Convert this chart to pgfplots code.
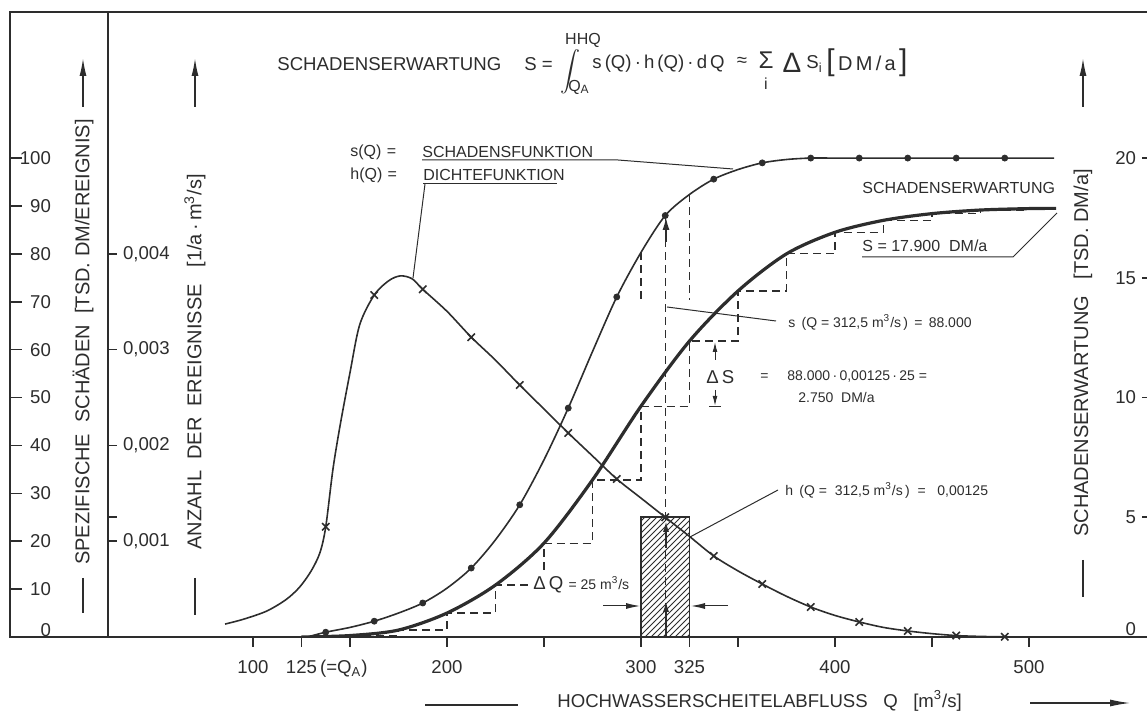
\documentclass[border=0pt]{standalone}
\usepackage{fontspec}
\setmainfont{Liberation Sans}
\usepackage{graphicx}
\usepackage{pgfplots}
\usepackage{pgfplotstable}
\pgfplotsset{compat=1.18}
\usetikzlibrary{patterns,arrows.meta}
\definecolor{ink}{RGB}{45,45,45}
\newcommand{\fA}{\fontsize{9.3pt}{11pt}\selectfont}
\newcommand{\fB}{\fontsize{8pt}{10pt}\selectfont}
\newcommand{\fC}{\fontsize{7pt}{9pt}\selectfont}
\newcommand{\fV}{\fontsize{10pt}{12pt}\selectfont}

% s(Q) Schadensfunktion [TSD DM/Ereignis]
\pgfplotstableread{
Q s
128 0
137.5 1.0
150 2.0
162.5 3.3
175 5.0
187.5 7.1
200 10.2
212.5 14.4
225 20.3
237.5 27.6
250 37.0
262.5 47.8
275 59.6
287.5 71.0
300 80.3
312.5 88.0
325 92.4
337.5 95.6
350 97.6
362.5 99.0
375 99.7
387.5 100
400 100
450 100
513 100
}\scurve
\pgfplotstableread{
Q s
137.5 1.0
162.5 3.3
187.5 7.1
212.5 14.4
237.5 27.6
262.5 47.8
287.5 71.0
312.5 88.0
337.5 95.6
362.5 99.0
387.5 100
412.5 100
437.5 100
462.5 100
487.5 100
}\smarks
% h(Q) Dichtefunktion [1/(a m3/s)]
\pgfplotstableread{
Q h
85.6 0.000135
95 0.000185
107 0.000270
117 0.000390
124 0.000520
130 0.000690
134.5 0.000880
137.5 0.00115
141.2 0.00175
145 0.00222
150 0.00276
155 0.00326
162.5 0.00357
170 0.00372
176 0.00377
182 0.00374
187.5 0.00363
200 0.00340
212.5 0.00313
225 0.00289
237.5 0.00263
250 0.00238
262.5 0.00213
275 0.00189
287.5 0.00165
300 0.00145
312.5 0.00125
325 0.00105
337.5 0.000846
350 0.000690
362.5 0.000553
375 0.000425
387.5 0.000313
400 0.000225
412.5 0.000157
425 0.000100
437.5 0.000063
450 0.000035
462.5 0.000015
475 0.000006
487.5 0.000002
500 0
}\hcurve
\pgfplotstableread{
Q h
137.5 0.00115
162.5 0.00357
187.5 0.00363
212.5 0.00313
237.5 0.00263
262.5 0.00213
287.5 0.00165
312.5 0.00125
337.5 0.000846
362.5 0.000553
387.5 0.000313
412.5 0.000157
437.5 0.000063
462.5 0.000015
487.5 0.000002
}\hmarks
% S(Q) Schadenserwartung [TSD DM/a]
\pgfplotstableread{
Q S
125 0
150 0.06
175 0.29
200 1.00
225 2.17
250 3.92
275 6.56
300 9.64
325 12.36
350 14.45
375 16.00
400 16.90
425 17.40
450 17.68
475 17.83
500 17.89
514 17.90
}\Scurve
\pgfplotstableread{
Q S
150 0.06
175 0.29
200 1.00
225 2.17
250 3.92
275 6.56
300 9.64
325 12.36
350 14.45
375 16.00
400 16.90
425 17.40
450 17.68
475 17.83
500 17.89
}\Ssteps

\pgfplotsset{
  geom/.style={at={(54pt,40.5pt)}, anchor=south west, scale only axis,
    width=520.5pt, height=312.5pt, xmin=25.26, xmax=561.86},
  stair/.style={ink, line width=0.6pt, dash pattern=on 4pt off 2.5pt},
}

\begin{document}
\begin{tikzpicture}
\useasboundingbox (0,0) rectangle (573.5pt,359pt);

% left panel: spezifische Schaeden
\begin{axis}[at={(5pt,40.5pt)}, anchor=south west, scale only axis,
  width=49pt, height=312.5pt, xmin=0, xmax=1, ymin=0, ymax=130.5,
  xtick=\empty, ytick={10,20,...,100},
  extra y ticks={0}, extra y tick style={yticklabel style={yshift=3.5pt}},
  ytick pos=left, tick align=inside, major tick length=6pt,
  tick style={ink, line width=0.8pt},
  axis line style={ink, line width=1.4pt},
  yticklabel style={font=\fA, text=ink, anchor=east, xshift=24pt},
  /pgf/number format/assume math mode=true]
\end{axis}

% main axis: s(Q)
\begin{axis}[geom, ymin=0, ymax=130.5, ytick=\empty,
  xtick={100,125,150,200,250,300,325,350,400,450,500},
  xticklabels={100,{125\rlap{\,(=Q\textsubscript{A})}},,200,,300,325,,400,,500},
  xtick pos=bottom, tick align=outside, major tick length=5pt,
  tick style={ink, line width=0.9pt},
  axis line style={ink, line width=1.4pt},
  xticklabel style={font=\fA, text=ink, yshift=-3pt}]
  \addplot[ink, line width=0.8pt, smooth, no markers] table[x=Q,y=s] {\scurve};
  \addplot[ink, only marks, mark=*, mark size=1.5pt] table[x=Q,y=s] {\smarks};
  \addplot[stair] coordinates {(312.5,0) (312.5,88)};
  \addplot[stair] coordinates {(300,80.3) (300,70.4)};
  \addplot[stair] coordinates {(325,92.4) (325,70.4)};
\end{axis}

% h(Q) axis
\begin{axis}[geom, ymin=0, ymax=0.006525, xtick=\empty,
  axis line style={draw=none}, scaled y ticks=false,
  ytick={0.001,0.00125,0.002,0.003,0.004},
  yticklabels={{0,001},,{0,002},{0,003},{0,004}},
  ytick pos=left, tick align=inside, major tick length=4.5pt,
  tick style={ink, line width=0.8pt},
  yticklabel style={font=\fA, text=ink, anchor=west, xshift=4pt}]
  \addplot[ink, line width=0.8pt, pattern=north east lines, pattern color=ink]
    coordinates {(300,0.00125) (325,0.00125)} \closedcycle;
  \addplot[ink, line width=0.8pt, smooth, no markers] table[x=Q,y=h] {\hcurve};
  \addplot[ink, only marks, mark=x, mark size=2.6pt, line width=0.8pt] table[x=Q,y=h] {\hmarks};
\end{axis}

% S(Q) axis
\begin{axis}[geom, ymin=0, ymax=26.1, xtick=\empty,
  axis line style={draw=none},
  ytick={5,10,15,20}, extra y ticks={0},
  extra y tick style={yticklabel style={yshift=4pt}},
  ytick pos=right, yticklabel pos=right, tick align=inside, major tick length=3.5pt,
  tick style={ink, line width=0.8pt},
  yticklabel style={font=\fA, text=ink, anchor=east, xshift=-3pt},
  /pgf/number format/assume math mode=true]
  \addplot[stair, const plot] table[x=Q,y=S] {\Ssteps};
  \addplot[ink, line width=1.6pt, smooth, no markers] table[x=Q,y=S] {\Scurve};
\end{axis}

% annotations in pixel coordinates
\begin{scope}[shift={(0pt,359pt)}, x=0.5pt, y=-0.5pt, every node/.style={text=ink, inner sep=0pt}]
  % title
  \node[anchor=west] at (277,64) {\fA SCHADENSERWARTUNG};
  \node[anchor=west] at (524,64) {\fA S =};
  \node at (570,72) {$\displaystyle\int$};
  \node at (583,40) {\fB HHQ};
  \node at (579,87) {\fB Q\textsubscript{A}};
  \node[anchor=west] at (592,64) {\fA s\,(Q)\,·\,h\,(Q)\,·\,d\,Q};
  \node at (742,62) {\fA ≈};
  \node[scale=1.3] at (766,60) {\fA Σ};
  \node at (766,84) {\fB i};
  \node at (792,63) {\fontsize{14pt}{14pt}\selectfont Δ};
  \node[anchor=west] at (806,64) {\fA S\textsubscript{i}};
  \node[anchor=west] at (826,63) {{\fontsize{15pt}{15pt}\selectfont[}\,{\fontsize{10pt}{12pt}\selectfont D\,M\,/\,a}\,{\fontsize{15pt}{15pt}\selectfont]}};
  % legend-like labels
  \node[anchor=west] at (350,152) {\fB s(Q)\,\,=};
  \node[anchor=west] at (422,152) {\fB SCHADENSFUNKTION};
  \node[anchor=west] at (350,175) {\fB h(Q)\,\,=};
  \node[anchor=west] at (423,175) {\fB DICHTEFUNKTION};
  \draw[ink, line width=0.5pt] (422,160) -- (618,160) -- (733,169);
  \draw[ink, line width=0.5pt] (423,184) -- (557,184);
  \draw[ink, line width=0.5pt] (425,184) -- (413,278);
  % Schadenserwartung labels
  \node[anchor=west] at (862,188) {\fB SCHADENSERWARTUNG};
  \node[anchor=west] at (862,246) {\fB S = 17.900\ \ DM/a};
  \draw[ink, line width=0.5pt] (862,257) -- (1013,257) -- (1057,213);
  % s(312,5)
  \node[anchor=west] at (788,322) {\fC s\, (Q = 312,5 m\textsuperscript{3}/s\,)\, = \,88.000};
  \draw[ink, line width=0.5pt] (776,321) -- (667,307);
  % Delta S
  \node[anchor=west] at (706,377) {\fA Δ\,S};
  \node[anchor=west] at (760,377) {\fC =};
  \node[anchor=west] at (787,377) {\fC 88.000\,·\,0,00125\,·\,25 =};
  \node[anchor=west] at (798,397) {\fC 2.750\ \ DM/a};
  \draw[ink, line width=0.5pt, -{Latex[length=5pt,width=2.4pt]}] (715,360) -- (715,342);
  \draw[ink, line width=0.5pt, -{Latex[length=5pt,width=2.4pt]}] (715,390) -- (715,406);
  \draw[ink, line width=0.5pt] (709,407) -- (721,407);
  % h(312,5)
  \node[anchor=west] at (785,490) {\fC h\, (Q = \ 312,5 m\textsuperscript{3}/s\,) \ = \ \ 0,00125};
  \draw[ink, line width=0.5pt] (778,490) -- (690,537);
  % Delta Q
  \node[anchor=west, fill=white, inner sep=1pt] at (531,585) {\fA Δ\,Q {\fC = 25 m\textsuperscript{3}/s}};
  \draw[ink, line width=0.5pt, -{Latex[length=7pt,width=3pt]}] (603,606) -- (640,606);
  \draw[ink, line width=0.5pt, -{Latex[length=7pt,width=3pt]}] (728,606) -- (691,606);
  % bold arrows on Q = 312,5
  \draw[ink, line width=1.2pt, -{Latex[length=7pt,width=3.5pt]}] (666,242) -- (666,216);
  \draw[ink, line width=1.1pt, -{Latex[length=6pt,width=3pt]}] (666,548) -- (666,520);
  \draw[ink, line width=1.1pt, -{Latex[length=6pt,width=3pt]}] (666,636) -- (666,600);
  % axis titles
  \node[rotate=90] at (83,342) {\fV SPEZIFISCHE\ \ SCHÄDEN\ \ [TSD.\ DM/EREIGNIS]};
  \draw[ink, line width=0.6pt] (83,578) -- (83,613);
  \draw[ink, line width=0.8pt, -{Latex[length=9pt,width=3.5pt]}] (83,107) -- (83,58);
  \node[rotate=90] at (195,362) {\fV ANZAHL\ \ DER\ \ EREIGNISSE\ \ \ [1/a\,·\,m\textsuperscript{3}/s]};
  \draw[ink, line width=0.6pt] (195,578) -- (195,615);
  \draw[ink, line width=0.8pt, -{Latex[length=9pt,width=3.5pt]}] (195,107) -- (195,58);
  \node[rotate=90] at (1083,353) {\fV SCHADENSERWARTUNG\ \ \ [TSD.\ DM/a]};
  \draw[ink, line width=0.6pt] (1083,560) -- (1083,597);
  \draw[ink, line width=0.8pt, -{Latex[length=9pt,width=3.5pt]}] (1083,107) -- (1083,58);
  \draw[ink, line width=0.6pt] (425,705) -- (518,705);
  \node[anchor=west] at (557,701) {\fA HOCHWASSERSCHEITELABFLUSS\ \ \ Q\ \ \ [m\textsuperscript{3}/s]};
  \draw[ink, line width=0.6pt, -{Latex[length=10pt,width=3.5pt]}] (1030,703) -- (1130,703);
\end{scope}
\end{tikzpicture}
\end{document}
